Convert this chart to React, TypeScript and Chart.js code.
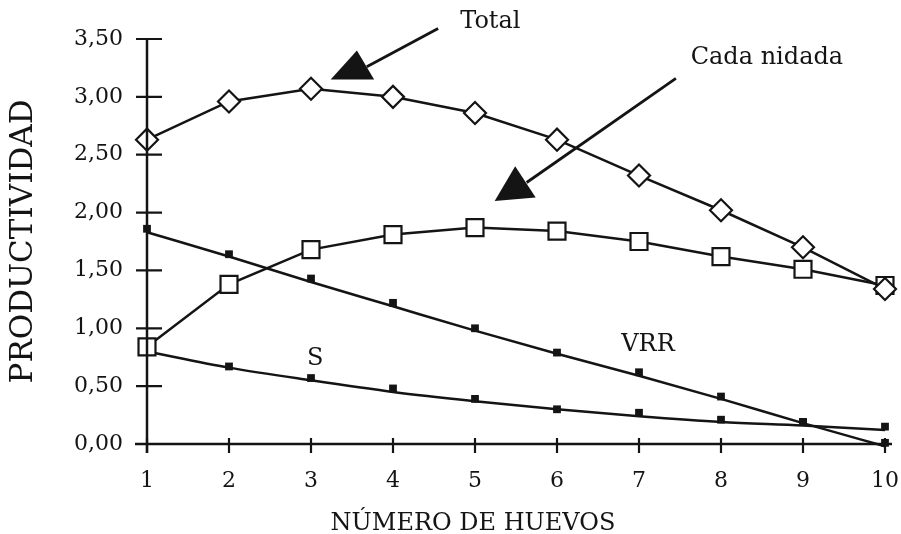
import React, { useEffect, useRef } from 'react';
import { Chart, registerables } from 'chart.js';
Chart.register(...registerables);

const huevos = [1, 2, 3, 4, 5, 6, 7, 8, 9, 10];
const total = [2.63, 2.96, 3.07, 3.0, 2.86, 2.63, 2.32, 2.02, 1.7, 1.34];
const cadaNidada = [0.84, 1.38, 1.68, 1.81, 1.87, 1.84, 1.75, 1.62, 1.51, 1.37];
const vrrPuntos = [1.86, 1.64, 1.43, 1.22, 1.0, 0.79, 0.62, 0.41, 0.19, 0.01];
const vrrAjuste = [1.83, 1.62, 1.4, 1.19, 0.98, 0.78, 0.59, 0.39, 0.18, -0.02];
const sPuntos = [0.82, 0.67, 0.57, 0.48, 0.39, 0.3, 0.27, 0.21, 0.19, 0.15];
const sAjuste = [0.8, 0.66, 0.55, 0.45, 0.37, 0.3, 0.24, 0.19, 0.16, 0.12];
const yTickValues = [0, 0.5, 1, 1.5, 2, 2.5, 3, 3.5];
const yTickLabels = ['0,00', '0,50', '1,00', '1,50', '2,00', '2,50', '3,00', '3,50'];
const xTickLabels = ['1', '2', '3', '4', '5', '6', '7', '8', '9', '10'];

const yTitle = 'PRODUCTIVIDAD';
const xTitle = 'NÚMERO DE HUEVOS';

// annotation labels: [text, x, y, align]
const labels: [string, number, number, CanvasTextAlign][] = [
  ['Total', 4.82, 3.65, 'left'],
  ['Cada nidada', 7.63, 3.34, 'left'],
  ['S', 3.05, 0.74, 'center'],
  ['VRR', 7.11, 0.86, 'center'],
];
// arrows: shaft start, shaft end, triangle points
const arrowShafts = [
  [[4.55, 3.59], [3.68, 3.26]],
  [[7.45, 3.16], [5.63, 2.26]],
];
const arrowHeads = [
  [[3.24, 3.15], [3.56, 3.4], [3.77, 3.15]],
  [[5.24, 2.1], [5.49, 2.4], [5.74, 2.13]],
];

const FONT = '"DejaVu Serif", "Liberation Serif", serif';
const INK = '#141414';

const toXY = (xs: number[], ys: number[]) => xs.map((x, i) => ({ x, y: ys[i] }));

const decor = {
  id: 'decor',
  afterDatasetsDraw(chart: any) {
    const { ctx, chartArea } = chart;
    const xs = chart.scales.x;
    const ys = chart.scales.y;
    const px = (v: number) => xs.getPixelForValue(v);
    const py = (v: number) => ys.getPixelForValue(v);
    ctx.save();
    ctx.strokeStyle = INK;
    ctx.fillStyle = INK;
    ctx.lineWidth = 2.5;
    // axes
    const x0 = px(1);
    const y0 = py(0);
    ctx.beginPath();
    ctx.moveTo(x0, y0 + 9);
    ctx.lineTo(x0, py(3.5));
    ctx.moveTo(x0 - 12, y0);
    ctx.lineTo(px(10) + 7, y0);
    ctx.stroke();
    ctx.lineWidth = 2.2;
    ctx.beginPath();
    yTickValues.forEach((v) => {
      ctx.moveTo(x0 - 11, py(v));
      ctx.lineTo(x0 + 15, py(v));
    });
    huevos.forEach((v) => {
      ctx.moveTo(px(v), y0 - 6);
      ctx.lineTo(px(v), y0 + 9);
    });
    ctx.stroke();
    // arrows
    ctx.lineWidth = 2.8;
    arrowShafts.forEach(([a, b]) => {
      ctx.beginPath();
      ctx.moveTo(px(a[0]), py(a[1]));
      ctx.lineTo(px(b[0]), py(b[1]));
      ctx.stroke();
    });
    arrowHeads.forEach((pts) => {
      ctx.beginPath();
      pts.forEach((p, i) => (i ? ctx.lineTo(px(p[0]), py(p[1])) : ctx.moveTo(px(p[0]), py(p[1]))));
      ctx.closePath();
      ctx.fill();
    });
    // labels
    ctx.font = `24px ${FONT}`;
    ctx.textBaseline = 'middle';
    labels.forEach(([t, x, y, al]) => {
      ctx.textAlign = al;
      ctx.fillText(t, px(x), py(y));
    });
    // axis titles
    ctx.font = `24px ${FONT}`;
    ctx.textAlign = 'center';
    ctx.fillText(xTitle, px(5) - 2, chartArea.bottom + 80);
    ctx.font = `31px ${FONT}`;
    ctx.translate(chartArea.left - 123, (chartArea.top + chartArea.bottom) / 2);
    ctx.rotate(-Math.PI / 2);
    ctx.fillText(yTitle, 0, 0);
    ctx.restore();
  },
};

export default function App() {
  const ref = useRef<HTMLCanvasElement | null>(null);
  useEffect(() => {
    if (!ref.current) return;
    const line = { borderColor: INK, borderWidth: 2.5, clip: false as any };
    const chart = new Chart(ref.current, {
      type: 'line',
      data: {
        datasets: [
          {
            ...line,
            label: 'Total',
            data: toXY(huevos, total),
            pointStyle: 'rectRot',
            pointRadius: 11,
            pointBackgroundColor: '#fff',
            pointBorderColor: INK,
            pointBorderWidth: 2.2,
          },
          {
            ...line,
            label: 'Cada nidada',
            data: toXY(huevos, cadaNidada),
            pointStyle: 'rect',
            pointRadius: 12,
            pointBackgroundColor: '#fff',
            pointBorderColor: INK,
            pointBorderWidth: 2.2,
          },
          {
            ...line,
            label: 'VRR',
            data: toXY(huevos, vrrPuntos),
            showLine: false,
            pointStyle: 'rect',
            pointRadius: 5.5,
            pointBackgroundColor: INK,
            pointBorderWidth: 0,
          },
          {
            ...line,
            label: 'VRR ajuste',
            data: toXY(huevos, vrrAjuste),
            pointRadius: 0,
            cubicInterpolationMode: 'monotone',
          },
          {
            ...line,
            label: 'S',
            data: toXY(huevos, sPuntos),
            showLine: false,
            pointStyle: 'rect',
            pointRadius: 5.5,
            pointBackgroundColor: INK,
            pointBorderWidth: 0,
          },
          {
            ...line,
            label: 'S ajuste',
            data: toXY(huevos, sAjuste),
            pointRadius: 0,
            cubicInterpolationMode: 'monotone',
          },
        ] as any,
      },
      options: {
        animation: false,
        responsive: true,
        maintainAspectRatio: false,
        layout: { padding: { left: 0, right: 16, top: 39, bottom: 0 } },
        plugins: { legend: { display: false }, tooltip: { enabled: false } },
        elements: { line: { tension: 0 } },
        scales: {
          x: {
            type: 'linear',
            min: 1,
            max: 10,
            grid: { display: false, drawTicks: true, tickLength: 24 },
            border: { display: false },
            afterFit: (s: any) => { s.height = 90; },
            afterBuildTicks: (s: any) => { s.ticks = huevos.map((v) => ({ value: v })); },
            ticks: {
              color: INK,
              padding: 0,
              maxRotation: 0,
              autoSkip: false,
              font: { family: FONT, size: 22 },
              callback: (v: any) => xTickLabels[huevos.indexOf(Number(v))] ?? '',
            },
          },
          y: {
            type: 'linear',
            min: 0,
            max: 3.5,
            grid: { display: false, drawTicks: true, tickLength: 24 },
            border: { display: false },
            afterFit: (s: any) => { s.width = 147; },
            afterBuildTicks: (s: any) => { s.ticks = yTickValues.map((v) => ({ value: v })); },
            ticks: {
              color: INK,
              padding: 0,
              font: { family: FONT, size: 22 },
              callback: (v: any) => yTickLabels[yTickValues.indexOf(Number(v))] ?? '',
            },
          },
        },
      },
      plugins: [decor],
    });
    return () => chart.destroy();
  }, []);
  return (
    <div style={{ position: 'absolute', left: 0, top: 0, width: 901, height: 534, background: '#fff' }}>
      <canvas ref={ref} />
    </div>
  );
}
